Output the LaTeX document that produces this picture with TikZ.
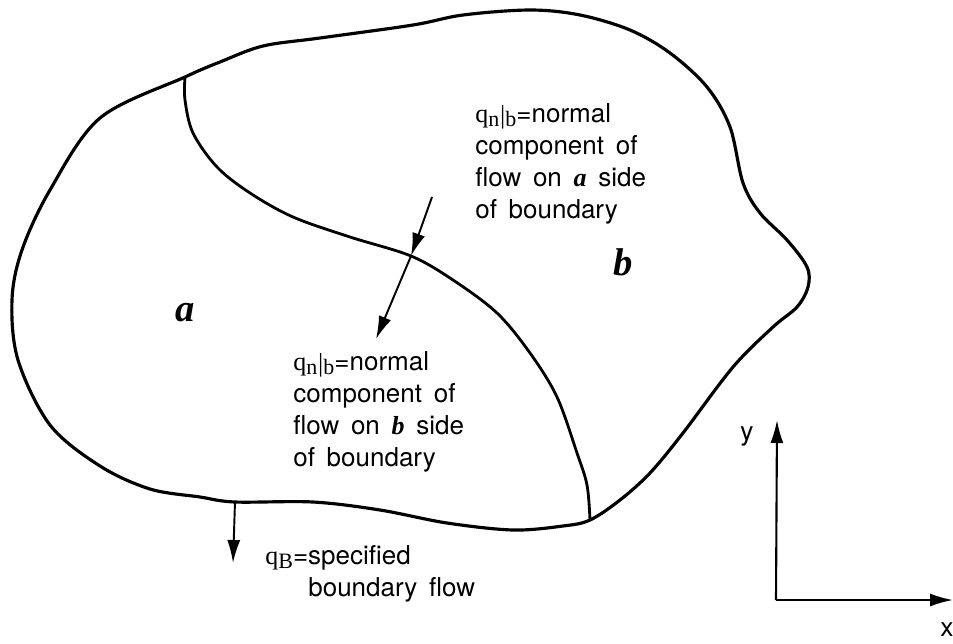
\documentclass[tikz,border=0pt]{standalone}
\usepackage{fontspec}
\usepackage{tikz}
\usetikzlibrary{arrows.meta,positioning}
\setmainfont{TeX Gyre Heros}
\newfontfamily\regionfont{Liberation Serif}
\newcommand{\regname}[1]{{\regionfont\bfseries\itshape #1}}
\newcommand{\widespaces}{\spaceskip=0.45em plus 0.1em\relax}
% serif flux symbol with lowered subscripts
\newcommand{\flux}[2]{{\regionfont q\raisebox{-0.35ex}{\fontsize{12.5}{12.5}\selectfont #1}\ifx\relax#2\relax\else\kern0.5pt\raisebox{-0.1ex}{|}\raisebox{-0.35ex}{\fontsize{12.5}{12.5}\selectfont #2}\fi}}
\tikzset{
  boundaryline/.style={black, line width=1.8pt, line join=round},
  cutline/.style={black, line width=1.6pt},
  flowarrow/.style={black, -{Latex[length=4.6mm,width=2.6mm]}, line width=1.1pt},
  axisline/.style={black, -{Latex[length=4.6mm,width=2.6mm]}, line width=1.2pt},
  notenode/.style={anchor=north west, align=left, inner sep=0pt, font=\fontsize{14.8}{18.2}\selectfont, execute at begin node=\widespaces},
  regionlabel/.style={inner sep=0pt, font=\fontsize{22}{24}\selectfont\regionfont\bfseries\itshape},
  axislabel/.style={inner sep=0pt, font=\fontsize{15}{18}\selectfont}
}

\begin{document}
\begin{tikzpicture}[x=0.02cm, y=-0.02cm]
  \useasboundingbox (0,0) rectangle (953,643);
  % outer boundary of the domain
  \draw[boundaryline] plot[smooth cycle, tension=0.55] coordinates {
    (185,77) (220,62) (263,46) (320,38) (413,25) (463,15) (530,10)
    (580,15) (630,30) (670,53) (707,87) (730,127) (743,183) (760,213) (787,240)
    (807,267) (808,287) (797,307) (773,327) (733,367) (683,433) (650,473)
    (620,500) (590,520) (563,526) (513,530) (447,523) (380,510) (313,502)
    (235,502) (200,497) (150,489) (100,466) (50,425) (18,360) (12,300)
    (22,250) (50,190) (100,118)};
  % boundary between a and b
  \coordinate (topjoin) at (185,77);
  \coordinate (botjoin) at (590,520);
  \coordinate (crossab) at (411,256);
  \draw[cutline] plot[smooth, tension=0.55] coordinates {
    (topjoin) (185,100) (193,133) (217,167) (250,193) (293,217) (350,237)
    (crossab) (453,280) (497,313) (530,353) (557,397) (577,453) (587,485) (botjoin)};

  \node[regionlabel] (rega) at (185,313) {a};
  \node[regionlabel] (regb) at (623,262) {b};

  \node[notenode] (noteb) at (475,103) {\flux{n}{b}=normal\\component of\\flow on \regname{a} side\\of boundary};
  \node[notenode] (notea) at (293,351) {\flux{n}{b}=normal\\component of\\flow on \regname{b} side\\of boundary};
  \node[notenode] (noteq) at (265,545) {\flux{B}{}=specified\\\hspace*{0.86cm}boundary flow};

  % normal flow arrows across the cut
  \coordinate (arrowstart) at (432,197);
  \coordinate (arrowend) at (376,339);
  \draw[flowarrow] (arrowstart) -- (crossab);
  \draw[flowarrow] (crossab) -- (arrowend);
  % specified flow on outer boundary
  \coordinate (qbase) at (235,502);
  \coordinate (qtip) at (233,563);
  \draw[flowarrow] (qbase) -- (qtip);

  % axes
  \coordinate (origin) at (776,600);
  \coordinate (ytip) at (777,420);
  \coordinate (xtip) at (953,600);
  \draw[axisline] (origin) -- (ytip);
  \draw[axisline] (origin) -- (xtip);
  \node[axislabel] (ylab) at (747,436) {y};
  \node[axislabel] (xlab) at (947,630) {x};
\end{tikzpicture}
\end{document}
